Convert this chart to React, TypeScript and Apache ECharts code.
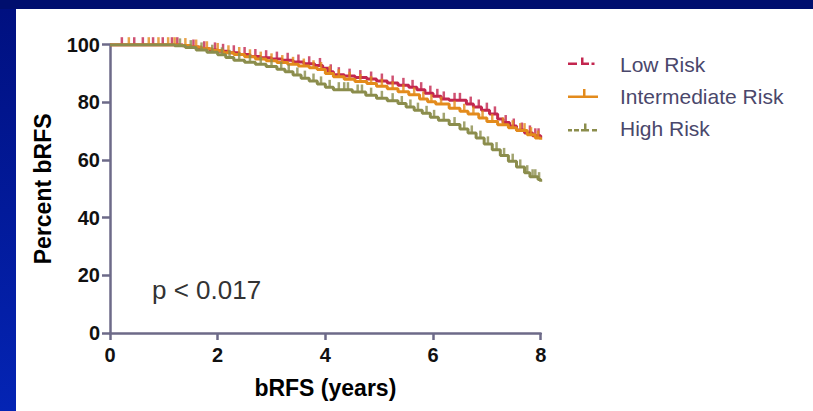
import React, { useEffect, useRef } from "react";
import * as echarts from "echarts";

// ---- Data ----
const seriesNames = ["Low Risk", "Intermediate Risk", "High Risk"];
const seriesColors = ["#c3264f", "#e38b1c", "#8b8d4c"];

const lowTimes = [0, 1.35, 1.5, 1.65, 1.85, 2.0, 2.2, 2.4, 2.6, 2.8, 3.0, 3.2, 3.4, 3.6, 3.8, 3.95, 4.05, 4.15, 4.35, 4.55, 4.77, 4.95, 5.15, 5.35, 5.55, 5.7, 5.85, 6.0, 6.15, 6.3, 6.62, 6.75, 6.9, 7.05, 7.2, 7.3, 7.42, 7.55, 7.7, 7.85, 8.0];
const lowValues = [100, 99.6, 99.2, 98.6, 98.2, 97.7, 97.2, 96.6, 95.9, 95.5, 95.0, 94.6, 94.0, 93.4, 92.8, 91.8, 90.6, 89.6, 89.1, 88.6, 88.1, 87.4, 86.7, 85.9, 85.2, 84.4, 83.2, 82.1, 81.2, 80.7, 79.4, 78.4, 77.3, 76.0, 74.2, 73.0, 71.8, 70.4, 69.4, 68.4, 67.6];
const lowCensored = [0.22, 0.45, 0.61, 0.8, 0.98, 1.15, 1.25, 1.55, 1.75, 1.95, 2.1, 2.3, 2.5, 2.7, 2.9, 3.1, 3.3, 3.5, 3.7, 3.9, 4.1, 4.25, 4.45, 4.65, 4.85, 5.05, 5.25, 5.45, 5.62, 5.78, 5.95, 6.08, 6.2, 6.4, 6.5, 6.7, 6.85, 7.0, 7.15, 7.35, 7.5, 7.65, 7.8, 7.9, 7.96];

const intTimes = [0, 1.3, 1.5, 1.7, 1.9, 2.1, 2.3, 2.5, 2.7, 2.9, 3.1, 3.3, 3.5, 3.7, 3.85, 4.0, 4.15, 4.35, 4.55, 4.77, 4.95, 5.15, 5.35, 5.55, 5.75, 5.9, 6.05, 6.3, 6.5, 6.65, 6.85, 7.0, 7.2, 7.4, 7.55, 7.75, 7.9, 8.0];
const intValues = [100, 99.7, 99.2, 98.6, 98.0, 97.2, 96.6, 95.8, 95.0, 94.4, 93.8, 93.2, 92.6, 92.0, 91.4, 90.0, 88.9, 88.0, 87.2, 86.5, 85.6, 84.7, 83.7, 82.6, 81.2, 80.2, 79.4, 78.0, 76.9, 76.0, 74.6, 73.4, 72.2, 71.2, 70.2, 68.8, 67.6, 67.0];
const intCensored = [0.35, 0.72, 0.9, 1.08, 1.2, 1.4, 1.6, 1.8, 2.0, 2.2, 2.4, 2.6, 2.8, 3.0, 3.2, 3.4, 3.6, 3.78, 3.92, 4.08, 4.25, 4.45, 4.65, 4.85, 5.05, 5.25, 5.45, 5.65, 5.82, 5.97, 6.15, 6.4, 6.58, 6.75, 6.92, 7.1, 7.3, 7.48, 7.62, 7.7, 7.82, 7.95];

const highTimes = [0, 1.2, 1.4, 1.6, 1.8, 2.0, 2.15, 2.3, 2.5, 2.7, 2.9, 3.1, 3.25, 3.4, 3.55, 3.7, 3.85, 4.0, 4.15, 4.5, 4.75, 4.95, 5.15, 5.35, 5.5, 5.65, 5.8, 5.95, 6.1, 6.3, 6.5, 6.65, 6.8, 6.95, 7.1, 7.25, 7.4, 7.55, 7.7, 7.8, 7.95, 8.0];
const highValues = [100, 99.6, 99.0, 98.2, 97.4, 96.5, 95.6, 94.6, 93.9, 93.2, 92.4, 91.5, 90.6, 89.5, 88.4, 87.4, 86.4, 85.2, 84.4, 83.6, 82.5, 81.4, 80.6, 79.6, 78.4, 77.3, 76.2, 74.8, 73.8, 72.3, 70.8, 69.4, 67.6, 65.6, 63.6, 61.6, 59.6, 57.6, 55.6, 54.2, 53.2, 52.5];
const highCensored = [1.3, 1.5, 1.7, 1.9, 2.08, 2.22, 2.4, 2.6, 2.8, 3.0, 3.18, 3.32, 3.48, 3.62, 3.78, 3.92, 4.08, 4.25, 4.35, 4.42, 4.6, 4.68, 4.85, 5.05, 5.25, 5.42, 5.58, 5.72, 5.88, 6.02, 6.2, 6.4, 6.58, 6.72, 6.88, 7.02, 7.18, 7.32, 7.48, 7.62, 7.75, 7.85, 7.9, 7.97];

const xMin = 0, xMax = 8, xInterval = 2;
const yMin = 0, yMax = 100, yInterval = 20;
const pValueText = "p < 0.017";
const xAxisTitle = "bRFS (years)";
const yAxisTitle = "Percent bRFS";

const FONT = '"Liberation Sans", Arial, Helvetica, sans-serif';

function stepAt(ts: number[], vs: number[], t: number) {
  let v = vs[0];
  for (let i = 0; i < ts.length; i++) if (ts[i] <= t) v = vs[i];
  return v;
}

export default function App() {
  const ref = useRef<HTMLDivElement>(null);
  useEffect(() => {
    if (!ref.current) return;
    const chart = echarts.init(ref.current, null, { renderer: "svg" });
    const groups = [
      { t: lowTimes, v: lowValues, c: lowCensored },
      { t: intTimes, v: intValues, c: intCensored },
      { t: highTimes, v: highValues, c: highCensored },
    ];
    const series: any[] = [];
    groups.forEach((g, i) => {
      series.push({
        name: seriesNames[i],
        type: "line",
        step: "end",
        showSymbol: false,
        data: g.t.map((t, k) => [t, g.v[k]]),
        lineStyle: { color: seriesColors[i], width: 3 },
        itemStyle: { color: seriesColors[i] },
        z: 2 + i,
      });
      series.push({
        name: seriesNames[i] + " censored",
        type: "scatter",
        symbol: "rect",
        symbolSize: [2.5, 8],
        symbolOffset: [0, -3.5],
        data: g.c.map((t) => [t, stepAt(g.t, g.v, t)]),
        itemStyle: { color: seriesColors[i] },
        z: 2 + i,
      });
    });

    const axisColor = "#6d6a88";
    const legendY = [64.5, 96.7, 128];
    const legendPieces: any[] = [];
    const piece = (x: number, y: number, w: number, h: number, color: string) => ({
      type: "rect",
      shape: { x, y, width: w, height: h },
      style: { fill: color },
      z: 10,
    });
    // Low Risk symbol
    legendPieces.push(piece(568, 62.5, 9, 2.5, seriesColors[0]));
    legendPieces.push(piece(581, 57.5, 2.5, 7.5, seriesColors[0]));
    legendPieces.push(piece(581, 62.5, 8, 2.5, seriesColors[0]));
    legendPieces.push(piece(591.5, 62.5, 3, 2.5, seriesColors[0]));
    // Intermediate symbol
    legendPieces.push(piece(568, 95.5, 30, 2.5, seriesColors[1]));
    legendPieces.push(piece(583, 89, 2.5, 7, seriesColors[1]));
    // High symbol
    legendPieces.push(piece(568, 129, 4, 2.5, seriesColors[2]));
    legendPieces.push(piece(574, 129, 5, 2.5, seriesColors[2]));
    legendPieces.push(piece(581, 129, 8, 2.5, seriesColors[2]));
    legendPieces.push(piece(584, 123.5, 2.5, 6, seriesColors[2]));
    legendPieces.push(piece(592, 129, 5, 2.5, seriesColors[2]));

    chart.setOption({
      animation: false,
      backgroundColor: "#000f6e",
      graphic: [
        {
          type: "rect",
          shape: { x: 0, y: 9, width: 16, height: 402 },
          style: {
            fill: new echarts.graphic.LinearGradient(0, 0, 0, 1, [
              { offset: 0, color: "#001080" },
              { offset: 1, color: "#0424b4" },
            ]),
          },
          z: -10,
        },
        {
          type: "rect",
          shape: { x: 16, y: 9, width: 797, height: 402 },
          style: { fill: "#ffffff" },
          z: -10,
        },
        ...legendPieces,
        ...seriesNames.map((n, i) => ({
          type: "text",
          x: 620,
          y: legendY[i],
          style: {
            text: n,
            fill: "#4a476b",
            font: `21px ${FONT}`,
            textVerticalAlign: "middle",
          },
          z: 10,
        })),
        {
          type: "text",
          x: 152,
          y: 290,
          style: {
            text: pValueText,
            fill: "#333333",
            font: `26px ${FONT}`,
            textVerticalAlign: "middle",
          },
          z: 10,
        },
      ],
      grid: { left: 110, right: 272.3, top: 44.7, bottom: 78, containLabel: false },
      xAxis: {
        type: "value",
        min: xMin,
        max: xMax,
        interval: xInterval,
        name: xAxisTitle,
        nameLocation: "middle",
        nameGap: 43,
        nameTextStyle: { fontFamily: FONT, fontWeight: "bold", fontSize: 23, color: "#000" },
        axisLine: { show: true, lineStyle: { color: axisColor, width: 2.5 } },
        axisTick: { show: true, length: 7, lineStyle: { color: axisColor, width: 2.5 } },
        axisLabel: { margin: 12, fontFamily: FONT, fontWeight: "bold", fontSize: 20, color: "#111" },
        splitLine: { show: false },
      },
      yAxis: {
        type: "value",
        min: yMin,
        max: yMax,
        interval: yInterval,
        name: yAxisTitle,
        nameLocation: "middle",
        nameGap: 56,
        nameTextStyle: { fontFamily: FONT, fontWeight: "bold", fontSize: 23, color: "#000" },
        axisLine: { show: true, lineStyle: { color: axisColor, width: 2.5 } },
        axisTick: { show: true, length: 8, lineStyle: { color: axisColor, width: 2.5 } },
        axisLabel: { margin: 10, fontFamily: FONT, fontWeight: "bold", fontSize: 20, color: "#111" },
        splitLine: { show: false },
      },
      series,
    });
    return () => chart.dispose();
  }, []);
  return (
    <div
      ref={ref}
      style={{ position: "fixed", left: 0, top: 0, width: 813, height: 411 }}
    />
  );
}
